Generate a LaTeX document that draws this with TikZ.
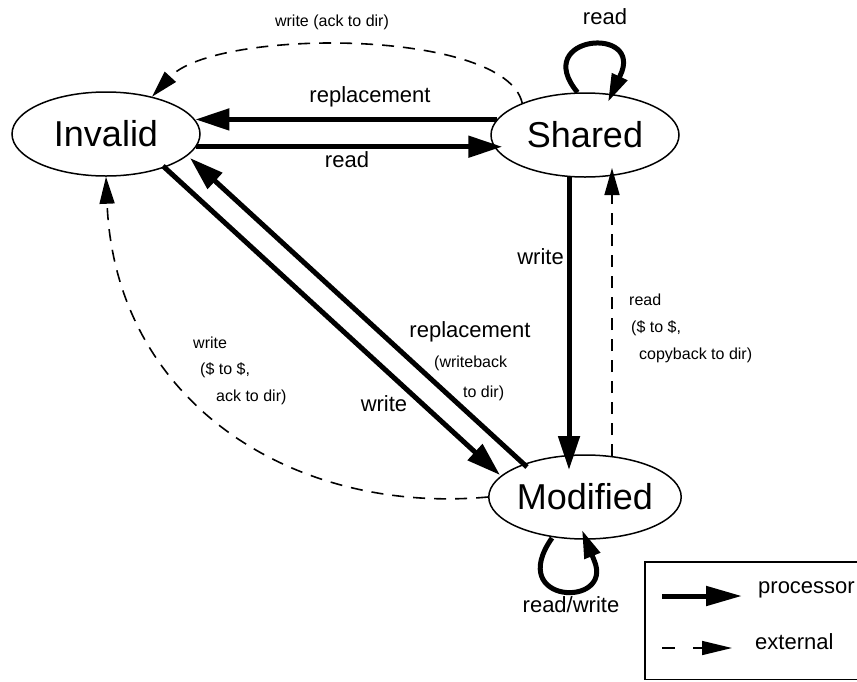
\documentclass[tikz,border=0pt]{standalone}
\usepackage{fontspec}
\setmainfont{Liberation Sans}
\usetikzlibrary{shapes.geometric,arrows.meta,calc}
\begin{document}
\begin{tikzpicture}[x=1pt,y=-1pt,
  state/.style={ellipse,draw,line width=1.5pt,minimum width=188pt,minimum height=84pt,inner sep=0pt,font=\fontsize{36}{40}\selectfont},
  proc/.style={line width=5pt,-{Triangle[length=34pt,width=21pt]}},
  procloop/.style={line width=5pt,line join=round,-{Triangle[length=28pt,width=16pt]}},
  ext/.style={line width=1.6pt,dash pattern=on 12pt off 9pt,-{Triangle[length=27pt,width=15pt]}},
  big/.style={font=\fontsize{22}{26}\selectfont,inner sep=0pt},
  small/.style={font=\fontsize{16}{27}\selectfont,inner sep=0pt,align=left},
]
\clip (0,0) rectangle (857,681);
\fill[white] (0,0) rectangle (857,681);

\node[state] (inv) at (106,134) {Invalid};
\node[state] (sh) at (585,135) {Shared};
\node[state] (mod) at (585,497) {Modified};

% Invalid <-> Shared
\draw[proc] (sh.170) -- (inv.9 |- sh.170);
\draw[proc] (inv.-8) -- ($(sh.west |- inv.-8)+(12,0)$);
% Shared <-> Modified
\draw[proc] ($(sh.center)+(-16,41)$) -- ($(mod.center)+(-16,-27)$);
\draw[ext] ($(mod.center)+(27,-41)$) -- ($(sh.center)+(27,33)$);
% Invalid <-> Modified
\draw[proc] ($(inv.center)+(57,32)$) -- ($(mod.center)+(-85,-22)$);
\draw[proc] ($(mod.center)+(-58,-30)$) -- ($(inv.center)+(84,24)$);
% dashed curves
\draw[ext] (sh.153) .. controls (505,28) and (215,28) .. (inv.39);
\draw[ext] (mod.west) .. controls (290,515) and (115,400) .. (inv.south);
% self loops
\draw[procloop] (sh.100) .. controls (530,35) and (645,25) .. (620,76) -- ($(sh.center)+(23,-33)$);
\draw[procloop] ($(mod.center)+(-33,41)$) .. controls (505,605) and (615,608) .. (594,560) -- ($(mod.center)+(-3,33)$);

% labels
\node[big] (lrep1) at (370,97) {replacement};
\node[big] (lread1) at (347,160) {read};
\node[small] (lwack) at (332,22) {write (ack to dir)};
\node[big] (lread2) at (605,17) {read};
\node[big,anchor=east] (lwrite1) at (564,257) {write};
\node[small,anchor=base west] (lcopy) at (629,359) {read\\\hspace*{2pt}(\$ to \$,\\\hspace*{10pt}copyback to dir)};
\node[small,anchor=base west,font=\fontsize{16}{26.5}\selectfont] (lack) at (193,401) {write\\\hspace*{7pt}(\$ to \$,\\\hspace*{23pt}ack to dir)};
\node[big] (lrep2) at (470,332) {replacement};
\node[small,anchor=base west,font=\fontsize{16}{30}\selectfont] (lwb) at (434,397) {(writeback\\\hspace*{29pt}to dir)};
\node[big] (lwrite2) at (384,404) {write};
\node[big] (lrw) at (571,605) {read/write};

% legend
\draw[line width=1.5pt] (645,562) rectangle (900,679.5);
\coordinate (l1a) at (662,596);
\coordinate (l1b) at (742,596);
\coordinate (l2a) at (662,648);
\coordinate (l2b) at (732,648);
\draw[line width=5pt,-{Triangle[length=36pt,width=19pt]}] (l1a) -- (l1b);
\draw[line width=1.6pt,dash pattern=on 13pt off 18pt,-{Triangle[length=30pt,width=14pt]}] (l2a) -- (l2b);
\node[big,anchor=west] (lproc) at (758,590) {processor};
\node[big,anchor=west] (lext) at (755,642) {external};
\end{tikzpicture}
\end{document}
